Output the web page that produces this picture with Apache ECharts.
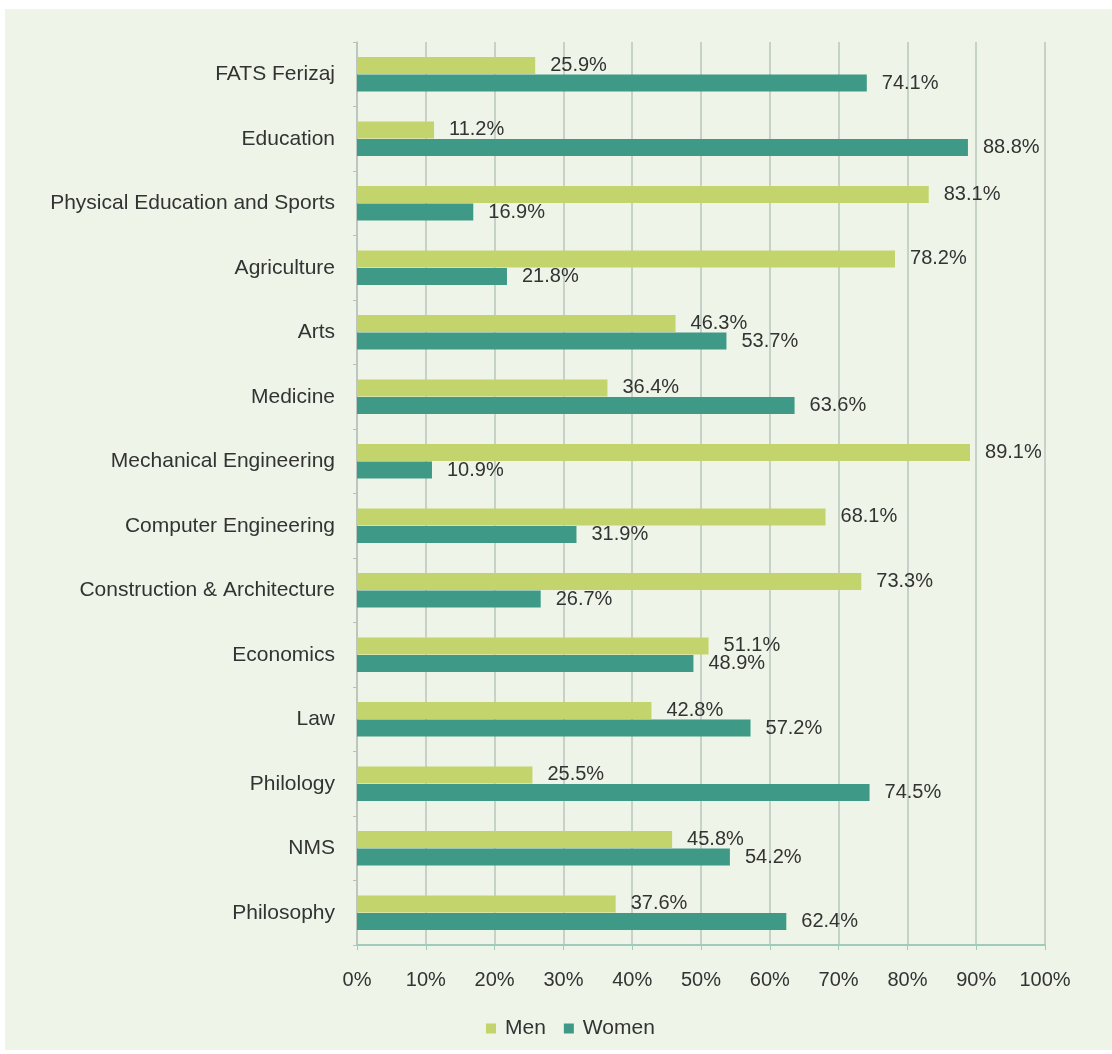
<!DOCTYPE html>
<html>
<head>
<meta charset="utf-8">
<script src="https://cdn.jsdelivr.net/npm/echarts@6/dist/echarts.min.js"></script>
<style>
html,body{margin:0;padding:0;background:#ffffff;}
#chart{width:1112px;height:1054px;}
</style>
</head>
<body>
<div id="chart"></div>
<script>
const categories = ["FATS Ferizaj","Education","Physical Education and Sports","Agriculture","Arts","Medicine","Mechanical Engineering","Computer Engineering","Construction & Architecture","Economics","Law","Philology","NMS","Philosophy"];
const men = [25.9, 11.2, 83.1, 78.2, 46.3, 36.4, 89.1, 68.1, 73.3, 51.1, 42.8, 25.5, 45.8, 37.6];
const women = [74.1, 88.8, 16.9, 21.8, 53.7, 63.6, 10.9, 31.9, 26.7, 48.9, 57.2, 74.5, 54.2, 62.4];
const xTicks = [0,10,20,30,40,50,60,70,80,90,100];

const FONT = 'Liberation Sans';
const chart = echarts.init(document.getElementById('chart'));
const labelStyle = {
  show: true, position: 'right', distance: 15,
  formatter: p => p.value.toFixed(1) + '%',
  color: '#333333', fontSize: 20, fontFamily: FONT
};
chart.setOption({
  backgroundColor: '#ffffff',
  animation: false,
  graphic: [{
    type: 'rect', left: 5, top: 9, z: -10,
    shape: {width: 1107, height: 1041},
    style: {fill: '#eef4e7'}
  }],
  grid: {left: 357, right: 67, top: 42, bottom: 109},
  legend: {
    data: ['Men','Women'], bottom: 10, left: 481,
    itemWidth: 10, itemHeight: 10, itemGap: 18, icon: 'rect',
    textStyle: {color: '#333333', fontSize: 21, fontFamily: FONT, padding: [0,0,0,4]}
  },
  xAxis: {
    type: 'value', min: 0, max: 100, interval: 10,
    axisLine: {show: true, lineStyle: {color: '#9fcbbd', width: 2}},
    axisTick: {show: true, length: 5, lineStyle: {color: '#9fcbbd'}},
    splitLine: {show: true, lineStyle: {color: '#b9c6bd', width: 1.5}},
    axisLabel: {formatter: v => v + '%', color: '#333333', fontSize: 20, fontFamily: FONT, margin: 25}
  },
  yAxis: {
    type: 'category', data: categories, inverse: true,
    axisLine: {show: true, lineStyle: {color: '#b9c1bb', width: 1.5}},
    axisTick: {show: true, length: 4, lineStyle: {color: '#b9c1bb'}},
    axisLabel: {color: '#333333', fontSize: 21, fontFamily: FONT, margin: 22}
  },
  series: [
    {name: 'Men', type: 'bar', data: men, barWidth: 17, barGap: '4%',
     itemStyle: {color: '#c4d46c'}, label: labelStyle},
    {name: 'Women', type: 'bar', data: women, barWidth: 17, barGap: '4%',
     itemStyle: {color: '#3e9a86'}, label: labelStyle}
  ]
});
</script>
</body>
</html>
